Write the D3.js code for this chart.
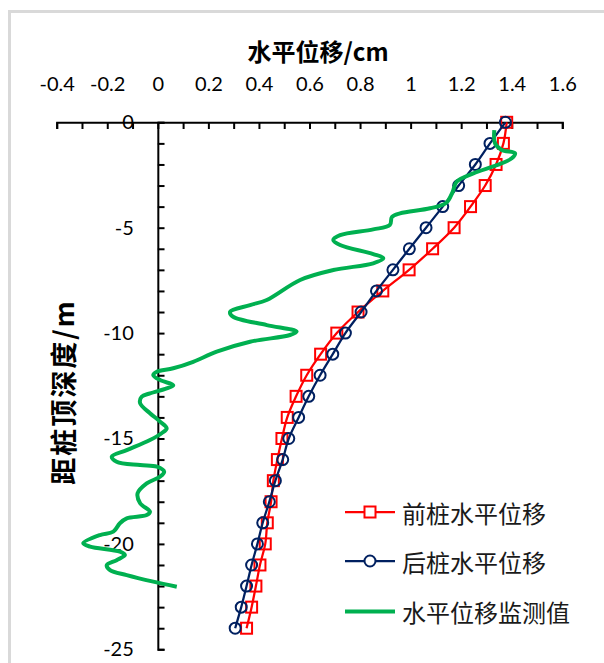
<!DOCTYPE html>
<html>
<head>
<meta charset="utf-8">
<script src="https://cdn.jsdelivr.net/npm/d3@7"></script>
<style>
  html, body { margin: 0; padding: 0; background: #fff; }
  svg { display: block; }
</style>
</head>
<body>
<svg id="chart" width="604" height="663"></svg>
<script>
// Depth below pile top (m) for the computed pile profiles
const depths = [0, -1, -2, -3, -4, -5, -6, -7, -8, -9, -10, -11, -12,
                -13, -14, -15, -16, -17, -18, -19, -20, -21, -22, -23, -24];

// Front pile horizontal displacement (cm)
const frontPile = [1.380, 1.367, 1.338, 1.295, 1.237, 1.172, 1.087, 0.994, 0.890,
                   0.792, 0.708, 0.644, 0.589, 0.547, 0.512, 0.491, 0.473, 0.457,
                   0.448, 0.433, 0.425, 0.404, 0.388, 0.371, 0.351];

// Back pile horizontal displacement (cm)
const backPile = [1.375, 1.314, 1.256, 1.190, 1.127, 1.061, 0.995, 0.930, 0.865,
                  0.804, 0.742, 0.692, 0.642, 0.597, 0.557, 0.518, 0.494, 0.465,
                  0.441, 0.415, 0.394, 0.371, 0.351, 0.330, 0.306];

// Inclinometer readings: depth (m) and horizontal displacement (cm)
const monitorDepth = [-0.37, -1.00, -1.31, -1.47, -1.71, -2.03, -2.42, -2.82, -3.31, -3.83,
  -4.08, -4.32, -4.49, -4.87, -5.08, -5.35, -5.58, -5.82, -6.25, -6.45,
  -6.69, -7.01, -7.48, -8.43, -8.67, -8.99, -9.22, -9.62, -9.93, -10.09,
  -10.41, -10.88, -11.36, -11.67, -11.83, -11.99, -12.23, -12.47, -12.62, -12.86,
  -13.02, -13.33, -13.80, -14.20, -14.52, -14.75, -15.07, -15.55, -15.86, -16.10,
  -16.26, -16.34, -16.58, -16.81, -17.13, -17.60, -18.07, -18.47, -18.63, -18.79,
  -19.02, -19.42, -19.58, -19.97, -20.13, -20.37, -20.53, -20.77, -21.01, -21.24,
  -21.48, -21.79, -22.03];
const monitorValue = [1.331, 1.334, 1.360, 1.413, 1.400, 1.341, 1.248, 1.182, 1.166, 1.140,
  1.077, 0.958, 0.926, 0.918, 0.852, 0.721, 0.694, 0.721, 0.852, 0.892,
  0.852, 0.694, 0.563, 0.431, 0.365, 0.286, 0.297, 0.431, 0.549, 0.523,
  0.365, 0.233, 0.140, 0.061, -0.004, -0.018, 0.009, 0.061, 0.035, -0.031,
  -0.064, -0.070, -0.031, 0.009, 0.035, 0.015, -0.031, -0.123, -0.182, -0.163,
  -0.070, -0.004, 0.025, 0.009, -0.044, -0.080, -0.070, -0.031, -0.044, -0.123,
  -0.150, -0.176, -0.229, -0.295, -0.268, -0.150, -0.130, -0.163, -0.202, -0.189,
  -0.123, -0.018, 0.075];

const xTickLabels = [-0.4, -0.2, 0, 0.2, 0.4, 0.6, 0.8, 1, 1.2, 1.4, 1.6];
const xMinorTicks = d3.range(-4, 17).map(d => d / 10);
const yTickLabels = [0, -5, -10, -15, -20, -25];
const yMinorTicks = d3.range(0, -26, -1);

const seriesNames = ["前桩水平位移", "后桩水平位移", "水平位移监测值"];
const xTitle = "水平位移/cm";
const yTitle = "距桩顶深度/m";

const RED = "#ff0000", NAVY = "#002060", GREEN = "#00b050";
const LATIN = "Lato, 'Liberation Sans', sans-serif";
const CJK = "'Noto Sans CJK SC', 'Noto Sans', sans-serif";

// plain hyphen-minus labels, e.g. "-0.4"
const plain = d => String(d);

const svg = d3.select("#chart");

// chart area frame
svg.append("rect")
  .attr("x", 9.5).attr("y", 11.5)
  .attr("width", 610).attr("height", 670)
  .attr("fill", "#fff")
  .attr("stroke", "#d9d9d9").attr("stroke-width", 3);

const x = d3.scaleLinear().domain([-0.4, 1.6]).range([56.7, 562.3]);
const y = d3.scaleLinear().domain([0, -25]).range([122.3, 649.3]);

// horizontal axis along depth 0, ticks pointing into the plot
const xAxisG = svg.append("g")
  .attr("transform", `translate(0,${y(0)})`)
  .call(d3.axisBottom(x).tickValues(xMinorTicks).tickFormat("")
        .tickSize(6.7).tickSizeOuter(6.7));
xAxisG.selectAll("path, line").attr("stroke", "#000").attr("stroke-width", 2);

// its labels sit above the line
const xLabelG = svg.append("g")
  .attr("transform", `translate(0,${y(0)})`)
  .call(d3.axisTop(x).tickValues(xTickLabels).tickSize(0).tickPadding(31)
        .tickFormat(plain));
xLabelG.select(".domain").remove();
xLabelG.selectAll("text")
  .attr("font-family", LATIN).attr("font-size", 20).attr("fill", "#000");

// vertical axis at displacement 0
const yAxisG = svg.append("g")
  .attr("transform", `translate(${x(0)},0)`)
  .call(d3.axisRight(y).tickValues(yMinorTicks).tickFormat("")
        .tickSize(6.7).tickSizeOuter(6.7));
yAxisG.selectAll("path, line").attr("stroke", "#000").attr("stroke-width", 2);

const yLabelG = svg.append("g")
  .attr("transform", `translate(${x(0)},0)`)
  .call(d3.axisLeft(y).tickValues(yTickLabels).tickSize(0).tickPadding(24)
        .tickFormat(plain));
yLabelG.select(".domain").remove();
yLabelG.selectAll("text")
  .attr("font-family", LATIN).attr("font-size", 20).attr("fill", "#000");

// axis titles
svg.append("text")
  .attr("x", 318).attr("y", 50)
  .attr("text-anchor", "middle").attr("dominant-baseline", "central")
  .attr("font-family", CJK).attr("font-weight", 700).attr("font-size", 24)
  .attr("fill", "#000")
  .text(xTitle);

svg.append("text")
  .attr("transform", "translate(62,392) rotate(-90)")
  .attr("text-anchor", "middle").attr("dominant-baseline", "central")
  .attr("font-family", CJK).attr("font-weight", 700).attr("font-size", 27)
  .attr("letter-spacing", 2)
  .attr("fill", "#000")
  .text(yTitle);

const smooth = d3.curveCatmullRom.alpha(0.5);
const line = d3.line().x(d => x(d[0])).y(d => y(d[1])).curve(smooth);

const frontData = depths.map((d, i) => [frontPile[i], d]);
const backData = depths.map((d, i) => [backPile[i], d]);
const monitorData = monitorDepth.map((d, i) => [monitorValue[i], d]);

const plot = svg.append("g");

// front pile: red line with open squares
plot.append("path").datum(frontData)
  .attr("d", line).attr("fill", "none")
  .attr("stroke", RED).attr("stroke-width", 2.25);
plot.append("g").selectAll("rect").data(frontData).join("rect")
  .attr("x", d => x(d[0]) - 5.5).attr("y", d => y(d[1]) - 5.5)
  .attr("width", 11).attr("height", 11)
  .attr("fill", "none").attr("stroke", RED).attr("stroke-width", 2);

// back pile: navy line with open circles
plot.append("path").datum(backData)
  .attr("d", line).attr("fill", "none")
  .attr("stroke", NAVY).attr("stroke-width", 2.25);
plot.append("g").selectAll("circle").data(backData).join("circle")
  .attr("cx", d => x(d[0])).attr("cy", d => y(d[1])).attr("r", 5.5)
  .attr("fill", "none").attr("stroke", NAVY).attr("stroke-width", 2);

// monitored profile
plot.append("path").datum(monitorData)
  .attr("d", line).attr("fill", "none")
  .attr("stroke", GREEN).attr("stroke-width", 4)
  .attr("stroke-linejoin", "round").attr("stroke-linecap", "butt");

// legend
const legendRows = [512, 561, 611.5];
const legend = svg.append("g");
seriesNames.forEach((name, i) => {
  const g = legend.append("g").attr("transform", `translate(0,${legendRows[i]})`);
  const color = [RED, NAVY, GREEN][i];
  g.append("line").attr("x1", 345).attr("x2", 395).attr("y1", 0).attr("y2", 0)
    .attr("stroke", color).attr("stroke-width", i === 2 ? 4 : 2.25);
  if (i === 0) {
    g.append("rect").attr("x", 364.5).attr("y", -5.5).attr("width", 11).attr("height", 11)
      .attr("fill", "#fff").attr("stroke", RED).attr("stroke-width", 2);
  } else if (i === 1) {
    g.append("circle").attr("cx", 370).attr("cy", 0).attr("r", 5.5)
      .attr("fill", "#fff").attr("stroke", NAVY).attr("stroke-width", 2);
  }
  g.append("text").attr("x", 402).attr("y", 0)
    .attr("dominant-baseline", "central")
    .attr("font-family", CJK).attr("font-size", 24).attr("fill", "#1a1a1a")
    .text(name);
});
</script>
</body>
</html>
